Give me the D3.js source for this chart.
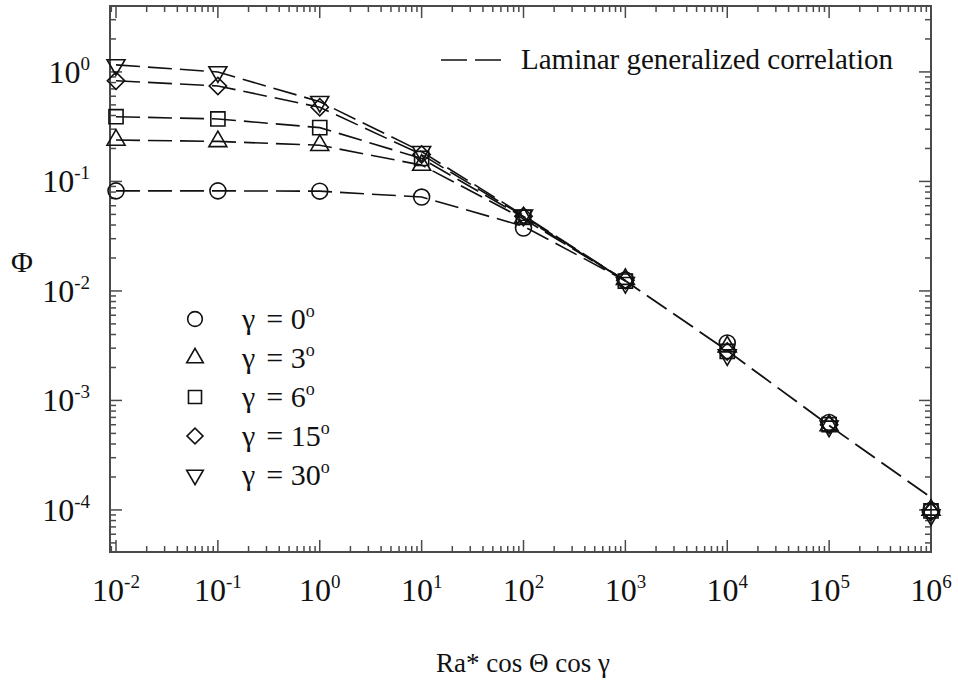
<!DOCTYPE html>
<html>
<head>
<meta charset="utf-8">
<script src="https://cdn.jsdelivr.net/npm/d3@7"></script>
<style>
  body { margin: 0; background: #fff; }
</style>
</head>
<body>
<div id="chart"></div>
<script>
// x positions (Ra* cos Θ cos γ)
const raValues = [1e-2, 1e-1, 1e0, 1e1, 1e2, 1e3, 1e4, 1e5, 1e6];
const gammaLabels = ["0", "3", "6", "15", "30"];
const symbolNames = ["circle", "triangle", "square", "diamond", "triangleDown"];

// measured points (markers)
const phiGamma0  = [0.082, 0.082, 0.0815, 0.072, 0.0375, 0.0126, 0.00335, 6.3e-4, 9.9e-5];
const phiGamma3  = [0.239, 0.232, 0.214, 0.141, 0.0465, 0.0128, 0.0031, 5.9e-4, 1.0e-4];
const phiGamma6  = [0.39, 0.372, 0.31, 0.162, 0.047, 0.0123, 0.0028, 6.0e-4, 9.8e-5];
const phiGamma15 = [0.83, 0.745, 0.476, 0.176, 0.048, 0.0125, 0.0028, 6.0e-4, 9.6e-5];
const phiGamma30 = [1.16, 1.0, 0.535, 0.187, 0.049, 0.0119, 0.0026, 5.8e-4, 9.0e-5];

// laminar generalized correlation, per γ up to Ra = 1e3
const corrRa = [1e-2, 1e-1, 1e0, 1e1, 1e2, 1e3];
const corrGamma0  = [0.082, 0.082, 0.0815, 0.072, 0.039, 0.0124];
const corrGamma3  = [0.239, 0.232, 0.214, 0.141, 0.0455, 0.0124];
const corrGamma6  = [0.39, 0.372, 0.31, 0.162, 0.047, 0.0124];
const corrGamma15 = [0.83, 0.745, 0.476, 0.176, 0.048, 0.0124];
const corrGamma30 = [1.16, 1.0, 0.535, 0.187, 0.049, 0.0124];
// shared asymptotic branch above Ra = 1e3
const tailRa  = [1e3, 1e4, 1e5, 1e6];
const tailPhi = [0.0124, 0.00285, 5.9e-4, 1.3e-4];

const xTickExponents = [-2, -1, 0, 1, 2, 3, 4, 5, 6];
const yTickExponents = [0, -1, -2, -3, -4];

const phiSeries = [phiGamma0, phiGamma3, phiGamma6, phiGamma15, phiGamma30];
const corrSeries = [corrGamma0, corrGamma3, corrGamma6, corrGamma15, corrGamma30];

const width = 958, height = 684;
const plotLeft = 110, plotRight = 931, plotTop = 6, plotBottom = 552;
const serif = "'Liberation Serif', 'Times New Roman', Times, 'DejaVu Serif', serif";

const svg = d3.select("#chart").append("svg")
  .attr("width", width).attr("height", height)
  .attr("font-family", serif);

const x = d3.scaleLog().domain([0.00873, 1e6]).range([plotLeft, plotRight]);
const y = d3.scaleLog().domain([4.13e-5, 4]).range([plotBottom, plotTop]);

// minor + major ticks
function logTicks(scale) {
  const [a, b] = scale.domain();
  const out = [];
  for (let e = Math.floor(Math.log10(a)); e <= Math.ceil(Math.log10(b)); e++) {
    for (let m = 1; m <= 9; m++) {
      const v = m * Math.pow(10, e);
      if (v >= a * 0.999 && v <= b * 1.001) out.push({v: v, major: m === 1});
    }
  }
  return out;
}

const frame = svg.append("g").attr("stroke", "#4a4a4a").attr("stroke-width", 1.5);
const xt = logTicks(x), yt = logTicks(y);

xt.forEach(t => {
  const len = t.major ? 12 : 6;
  frame.append("line").attr("x1", x(t.v)).attr("x2", x(t.v)).attr("y1", plotBottom).attr("y2", plotBottom - len);
  frame.append("line").attr("x1", x(t.v)).attr("x2", x(t.v)).attr("y1", plotTop).attr("y2", plotTop + len);
});
yt.forEach(t => {
  const len = t.major ? 12 : 6;
  frame.append("line").attr("y1", y(t.v)).attr("y2", y(t.v)).attr("x1", plotLeft).attr("x2", plotLeft + len);
  frame.append("line").attr("y1", y(t.v)).attr("y2", y(t.v)).attr("x1", plotRight).attr("x2", plotRight - len);
});

frame.append("rect")
  .attr("x", plotLeft).attr("y", plotTop)
  .attr("width", plotRight - plotLeft).attr("height", plotBottom - plotTop)
  .attr("fill", "none").attr("stroke-width", 2);

// tick labels
function powLabel(g, e, anchor) {
  const t = g.append("text").attr("text-anchor", anchor).attr("font-size", 32).attr("fill", "#111");
  t.append("tspan").text("10");
  t.append("tspan").attr("dy", -13).attr("font-size", 19).text(e < 0 ? "-" + (-e) : String(e));
  return t;
}
xTickExponents.forEach(e => {
  powLabel(svg, e, "middle").attr("x", x(Math.pow(10, e))).attr("y", 601);
});
yTickExponents.forEach(e => {
  powLabel(svg, e, "end").attr("x", 90).attr("y", y(Math.pow(10, e)) + 11);
});

// axis titles
svg.append("text").attr("x", 523).attr("y", 672).attr("text-anchor", "middle")
  .attr("font-size", 27).attr("fill", "#111").text("Ra* cos Θ cos γ");
svg.append("text").attr("x", 22).attr("y", 272).attr("text-anchor", "middle")
  .attr("font-size", 30).attr("fill", "#111").text("Φ");

// correlation curves
const dash = "24,8";
const line = d3.line().x(d => x(d[0])).y(d => y(d[1]));
svg.append("g").selectAll("path").data(corrSeries).enter().append("path")
  .attr("d", d => line(d.map((v, i) => [corrRa[i], v])))
  .attr("fill", "none").attr("stroke", "#111").attr("stroke-width", 1.6)
  .attr("stroke-dasharray", dash);
svg.append("path")
  .attr("d", line(tailPhi.map((v, i) => [tailRa[i], v])))
  .attr("fill", "none").attr("stroke", "#111").attr("stroke-width", 1.8)
  .attr("stroke-dasharray", dash).attr("stroke-dashoffset", 6);

// marker shapes
const symbolTypes = {
  circle: d3.symbolCircle, triangle: d3.symbolTriangle, square: d3.symbolSquare,
  diamond: d3.symbolSquare, triangleDown: d3.symbolTriangle
};
const symbolSizes = { circle: 200, triangle: 140, square: 200, diamond: 150, triangleDown: 140 };
function drawMarker(g, name, cx, cy, scale) {
  const s = d3.symbol().type(symbolTypes[name]).size(symbolSizes[name] * (scale || 1));
  let tr = "translate(" + cx + "," + cy + ")";
  if (name === "triangleDown") tr += " rotate(180)";
  if (name === "diamond") tr += " rotate(45)";
  g.append("path").attr("d", s()).attr("transform", tr)
    .attr("fill", "none").attr("stroke", "#111").attr("stroke-width", 1.6);
}

const markers = svg.append("g");
phiSeries.forEach((series, k) => {
  series.forEach((v, i) => drawMarker(markers, symbolNames[k], x(raValues[i]), y(v)));
});

// legend (symbols)
const leg = svg.append("g");
gammaLabels.forEach((g, k) => {
  const cy = 319 + k * 39;
  drawMarker(leg, symbolNames[k], 195, cy, 0.85);
  const t = leg.append("text").attr("x", 242).attr("y", cy + 10).attr("font-size", 30).attr("fill", "#111");
  t.append("tspan").text("γ");
  t.append("tspan").attr("dx", 11).text("= " + g);
  t.append("tspan").attr("dy", -12).attr("font-size", 18).text("o");
});

// legend (correlation)
svg.append("line").attr("x1", 441).attr("x2", 501).attr("y1", 60).attr("y2", 60)
  .attr("stroke", "#111").attr("stroke-width", 1.6).attr("stroke-dasharray", "26,8");
svg.append("text").attr("x", 521).attr("y", 69).attr("font-size", 29).attr("fill", "#111")
  .text("Laminar generalized correlation");
</script>
</body>
</html>
